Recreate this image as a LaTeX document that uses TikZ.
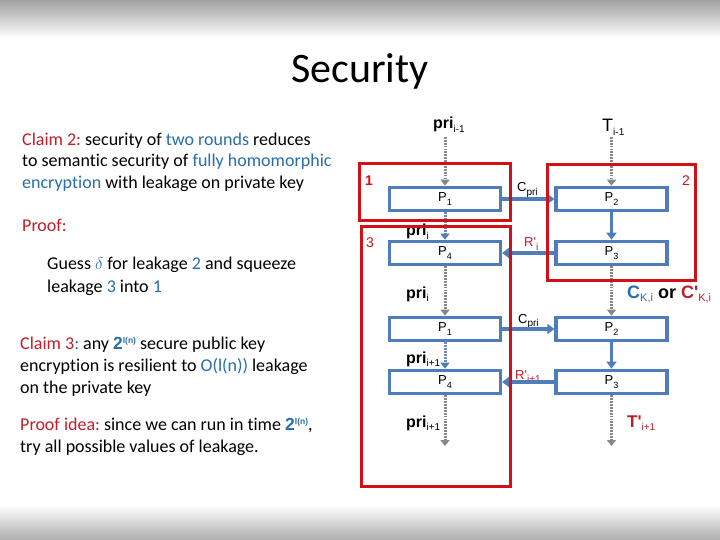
\documentclass[tikz,border=0pt]{standalone}
\usepackage{fontspec}
\setmainfont{Carlito}[Ligatures=NoCommon]
\newfontfamily\arialf{Liberation Sans}
\usetikzlibrary{arrows.meta}
\definecolor{tred}{RGB}{192,30,40}
\definecolor{tblue}{RGB}{40,110,170}
\definecolor{boxblue}{RGB}{79,125,185}
\definecolor{boxred}{RGB}{208,18,24}
\definecolor{dotgray}{RGB}{135,135,135}
\definecolor{dotblue}{RGB}{115,140,180}
\newcommand\lsub[2][9]{\raisebox{-3.5pt}{\fontsize{#1}{#1}\selectfont\mdseries #2}}
\newcommand\lsup[1]{\raisebox{6pt}{\arialf\fontsize{8.5}{9}\selectfont #1}}
\newcommand\twoln{{\color{tblue}\arialf\bfseries\fontsize{17.5}{18}\selectfont 2\lsup{l(n)}}}
\frenchspacing
\begin{document}
\begin{tikzpicture}[x=1pt,y=-1pt,
  txt/.style={anchor=base west, inner sep=0, font=\fontsize{18}{20}\selectfont},
  lbl/.style={anchor=base west, inner sep=0, font=\arialf\fontsize{16}{18}\selectfont},
  pbox/.style={draw=boxblue, line width=3.2pt, minimum width=111pt, minimum height=23.5pt, inner sep=0, font=\arialf\fontsize{13}{15}\selectfont},
  grp/.style={draw=boxred, line width=3.6pt},
  num/.style={text=boxred, inner sep=0, font=\arialf\fontsize{14}{16}\selectfont},
  darrow/.style={draw=dotgray, line width=3pt, dash pattern=on 1.8pt off 1.1pt, -{Triangle[width=9pt,length=6pt]}},
  barrow/.style={draw=dotblue, line width=3pt, dash pattern=on 1.8pt off 1.1pt, -{Triangle[width=9pt,length=6pt,color=boxblue,fill=boxblue]}},
  sarrow/.style={draw=boxblue, line width=3.2pt, -{Triangle[width=10pt,length=7pt]}}
]
\useasboundingbox (0,0) rectangle (720,540);
\fill[white] (0,0) rectangle (720,540);
\shade[top color=black!37, bottom color=white] (0,0) rectangle (720,38);
\shade[top color=white, bottom color=black!32] (0,505) rectangle (720,540);

% title
\node[anchor=base, inner sep=0, font=\fontsize{42}{46}\selectfont] (title) at (360,83) {Security};

% left text
\node[txt] (c2a) at (22,146) {{\color{tred}Claim 2:} security of {\color{tblue}two rounds} reduces};
\node[txt] (c2b) at (22,167) {to semantic security of {\color{tblue}fully homomorphic}};
\node[txt] (c2c) at (22,189) {{\color{tblue}encryption} with leakage on private key};
\node[txt] (pf) at (22,231) {{\color{tred}Proof:}};
\node[txt] (g1) at (47,269) {Guess {\color{tblue}$\delta$} for leakage {\color{tblue}2} and squeeze};
\node[txt] (g2) at (47,292) {leakage {\color{tblue}3} into {\color{tblue}1}};
\node[txt] (c3a) at (20,349) {{\color{tred}Claim 3}{\color{tblue}:} any \twoln{} secure public key};
\node[txt] (c3b) at (20,371) {encryption is resilient to {\color{tblue}O(l(n))} leakage};
\node[txt] (c3c) at (20,393) {on the private key};
\node[txt] (pia) at (20,430) {{\color{tred}Proof idea:} since we can run in time \twoln,};
\node[txt] (pib) at (20,452) {try all possible values of leakage.};

% blue boxes
\node[pbox] (P1a) at (445,199) {P\lsub{1}};
\node[pbox] (P2a) at (611.5,199) {P\lsub{2}};
\node[pbox] (P4a) at (445,253) {P\lsub{4}};
\node[pbox] (P3a) at (611.5,253) {P\lsub{3}};
\node[pbox] (P1b) at (445,329) {P\lsub{1}};
\node[pbox] (P2b) at (611.5,329) {P\lsub{2}};
\node[pbox] (P4b) at (445,382) {P\lsub{4}};
\node[pbox] (P3b) at (611.5,382) {P\lsub{3}};

\coordinate (top1) at (445,137);
\coordinate (top2) at (611.5,137);
\coordinate (bot1) at (445,446);
\coordinate (bot2) at (611.5,446);

% labels
\node[lbl, font=\arialf\bfseries\fontsize{16}{18}\selectfont] (lpri0) at (433,129) {pri\lsub[10]{i-1}};
\node[lbl, font=\arialf\fontsize{18}{20}\selectfont] (lT0) at (602,132) {T\lsub[10]{i-1}};
\node[lbl, font=\arialf\fontsize{13}{15}\selectfont] (lcp1) at (517,192) {C\lsub[10]{pri}};
\node[lbl, text=tred, font=\arialf\fontsize{13}{15}\selectfont] (lr1) at (524,247) {R'\lsub[10]{i}};
\node[lbl, font=\arialf\bfseries\fontsize{16}{18}\selectfont] (lpri1) at (406,236) {pri\lsub[10]{i}};
\node[lbl, font=\arialf\bfseries\fontsize{16}{18}\selectfont] (lpri2) at (406,298) {pri\lsub[10]{i}};
\node[lbl, font=\arialf\bfseries\fontsize{18}{20}\selectfont] (lck) at (627,298) {{\color{tblue}C\lsub[11]{K,i}} or {\color{tred}C'\lsub[11]{K,i}}};
\node[lbl, font=\arialf\fontsize{13}{15}\selectfont] (lcp2) at (518,323) {C\lsub[10]{pri}};
\node[lbl, font=\arialf\bfseries\fontsize{16}{18}\selectfont] (lpri3) at (406,363) {pri\lsub[10]{i+1}};
\node[lbl, text=tred, font=\arialf\fontsize{13}{15}\selectfont] (lr2) at (515,379) {R'\lsub[10]{i+1}};
\node[lbl, font=\arialf\bfseries\fontsize{16}{18}\selectfont] (lpri4) at (406,427) {pri\lsub[10]{i+1}};
\node[lbl, text=tred, font=\arialf\bfseries\fontsize{17}{18}\selectfont] (lT1) at (627,427) {T'\lsub[10]{i+1}};

% arrows
\draw[darrow] (top1) -- (P1a.north);
\draw[barrow] (P1a.south) -- (P4a.north);
\draw[darrow] (P4a.south) -- (P1b.north);
\draw[barrow] (P1b.south) -- (P4b.north);
\draw[darrow] (P4b.south) -- (bot1);
\draw[darrow] (top2) -- (P2a.north);
\draw[sarrow] (P2a.south) -- (P3a.north);
\draw[darrow] (P3a.south) -- (P2b.north);
\draw[sarrow] (P2b.south) -- (P3b.north);
\draw[darrow] (P3b.south) -- (bot2);
\draw[sarrow] (P1a.east) -- (P2a.west);
\draw[sarrow] (P3a.west) -- (P4a.east);
\draw[sarrow] (P1b.east) -- (P2b.west);
\draw[sarrow] (P3b.west) -- (P4b.east);

% red groups
\draw[grp] (359.5,163.5) rectangle (510.5,220.5);
\draw[grp] (547.5,164.5) rectangle (695.5,280.5);
\draw[grp] (361.5,226.5) rectangle (510.5,486.5);
\node[num, font=\arialf\bfseries\fontsize{14}{16}\selectfont] (n1) at (369,181) {1};
\node[num] (n2) at (686,181) {2};
\node[num] (n3) at (370,243) {3};
\end{tikzpicture}
\end{document}
